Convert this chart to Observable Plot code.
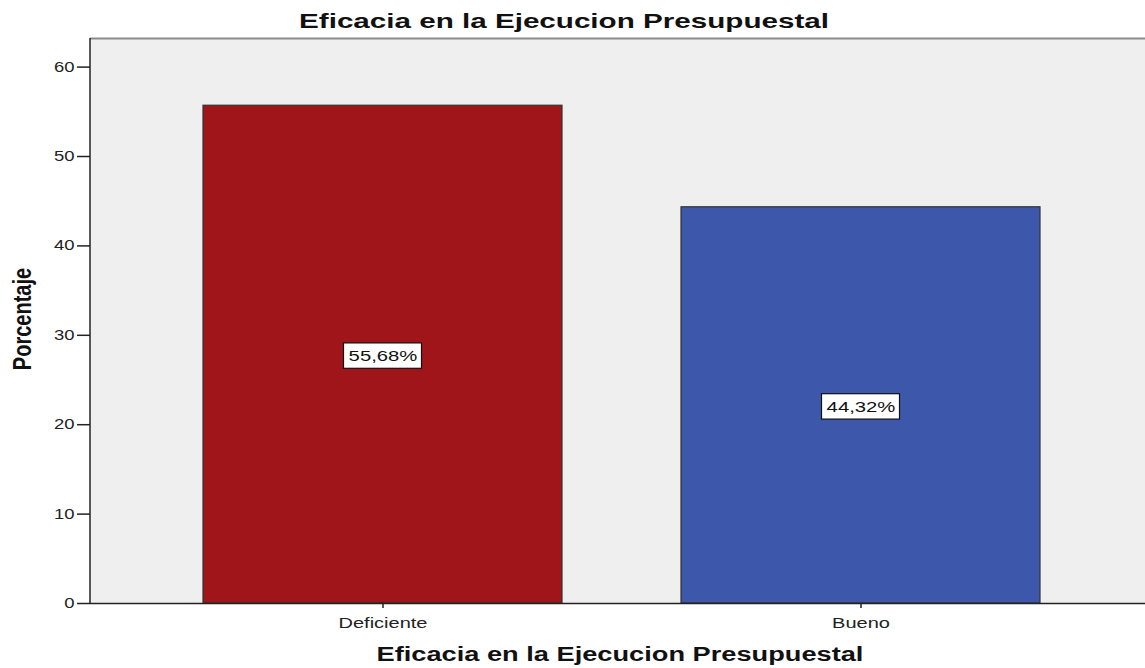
<!DOCTYPE html>
<html>
<head>
<meta charset="utf-8">
<script src="https://cdn.jsdelivr.net/npm/d3@7"></script>
<script src="https://cdn.jsdelivr.net/npm/@observablehq/plot@0.6"></script>
<style>
  html, body { margin: 0; padding: 0; background: #fff; }
  #wrap { position: relative; width: 1145px; height: 668px; font-family: "Liberation Sans", Arial, sans-serif; overflow: hidden; }
  #wrap svg { position: absolute; left: 0; top: 0; }
  .t { position: absolute; font-weight: bold; color: #111; white-space: nowrap; line-height: 1; }
  #title { top: 10px; left: 564px; transform: translateX(-50%) scaleX(1.41); font-size: 21px; }
  #xlabel { top: 644px; left: 620px; transform: translateX(-50%) scaleX(1.36); font-size: 20px; }
  #ylabel { top: 319px; left: 21.5px; transform: translate(-50%, -50%) scaleX(1.25) rotate(-90deg); font-size: 20px; }
</style>
</head>
<body>
<div id="wrap">
  <div class="t" id="title">Eficacia en la Ejecucion Presupuestal</div>
  <div class="t" id="xlabel">Eficacia en la Ejecucion Presupuestal</div>
  <div class="t" id="ylabel">Porcentaje</div>
</div>
<script>
const categories = ["Deficiente", "Bueno"];
const percentages = [55.68, 44.32];
const barColors = ["#9f151a", "#3d58aa"];
const yTicks = [0, 10, 20, 30, 40, 50, 60];
const yMax = 63.2;

const data = categories.map((c, i) => ({cat: c, value: percentages[i], color: barColors[i]}));
const fmt = v => v.toFixed(2).replace(".", ",") + "%";
const boxHalf = 1.42;

const leftLine = (index, scales, values, dims) => {
  const g = document.createElementNS("http://www.w3.org/2000/svg", "line");
  g.setAttribute("x1", dims.marginLeft); g.setAttribute("x2", dims.marginLeft);
  g.setAttribute("y1", dims.marginTop); g.setAttribute("y2", dims.height - dims.marginBottom);
  g.setAttribute("stroke", "#222"); g.setAttribute("stroke-width", 1.5);
  return g;
};

const chart = Plot.plot({
  width: 1145,
  height: 668,
  marginLeft: 90,
  marginRight: 0,
  marginTop: 38,
  marginBottom: 65,
  style: {background: "transparent", fontFamily: "'Liberation Sans', Arial, sans-serif", fontSize: "14px", color: "#222"},
  x: {domain: categories, paddingInner: 0.25, paddingOuter: 0.2265, align: 0.517, label: null},
  y: {domain: [0, yMax], label: null},
  marks: [
    Plot.frame({fill: "#efefef", stroke: null}),
    Plot.ruleY([yMax], {stroke: "#8a8a8a", strokeWidth: 2}),
    Plot.barY(data, {x: "cat", y: "value", fill: "color", stroke: "#333", strokeWidth: 1.2}),
    Plot.barY(data, {x: "cat", y1: d => d.value / 2 - boxHalf, y2: d => d.value / 2 + boxHalf, fill: "white", stroke: "#111", strokeWidth: 1.2, insetLeft: 140.5, insetRight: 140.5, dy: 1.5}),
    Plot.text(data, {x: "cat", y: d => d.value / 2, text: d => fmt(d.value), fontSize: 14, fill: "#111", dy: 2}),
    Plot.axisY(yTicks, {tickSize: 13, tickPadding: 3, tickFormat: d => d, fontSize: 14, label: null, stroke: "#222", strokeWidth: 1.5}),
    Plot.axisX(categories, {tickSize: 5, tickPadding: 10, fontSize: 14, label: null, stroke: "#222", strokeWidth: 1.5}),
    Plot.ruleY([0], {stroke: "#222", strokeWidth: 1.5}),
    leftLine
  ]
});
document.getElementById("wrap").prepend(chart);

function stretch(sel, s) {
  chart.querySelectorAll(sel).forEach(t => {
    const x = +(t.getAttribute("x") || 0);
    const prev = t.getAttribute("transform") || "";
    t.setAttribute("transform", `${prev} translate(${x},0) scale(${s},1) translate(${-x},0)`);
  });
}
stretch('g[aria-label="y-axis tick label"] text', 1.32);
stretch('g[aria-label="x-axis tick label"] text', 1.43);
stretch('g[aria-label="text"] text', 1.45);
</script>
</body>
</html>
